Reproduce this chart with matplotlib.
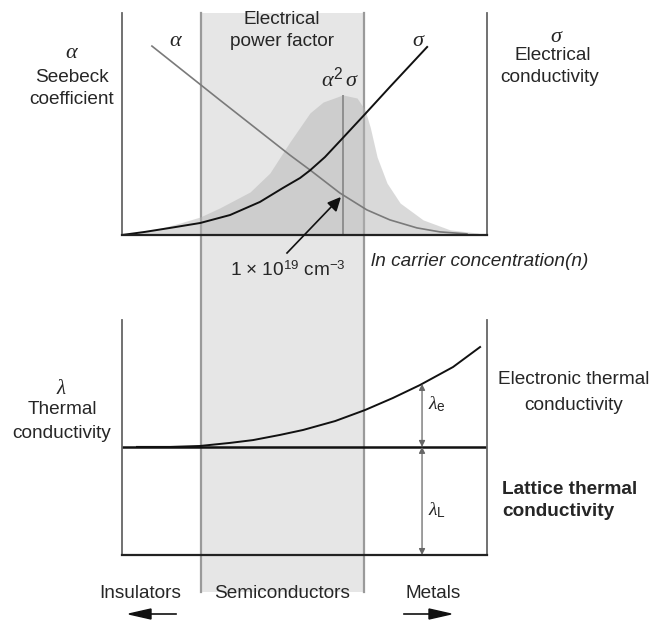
import numpy as np
import matplotlib
matplotlib.use('Agg')
import matplotlib.pyplot as plt

plt.rcParams['font.family'] = ['Liberation Sans', 'DejaVu Sans']
plt.rcParams['mathtext.fontset'] = 'custom'
plt.rcParams['mathtext.rm'] = 'Liberation Sans'
plt.rcParams['mathtext.it'] = 'Liberation Serif:italic'
plt.rcParams['lines.solid_joinstyle'] = 'round'

# %% data (x = ln n, arbitrary 0-100 units; y = arbitrary 0-100 units)

alpha_x = [8.2, 26.8, 46.0, 51.5, 59.7, 67.1, 73.4, 80.8, 87.1, 94.5]
alpha_y = [85.1, 60.8, 36.0, 29.3, 18.9, 11.3, 6.8, 3.2, 1.4, 0.5]

sigma_x = [0, 6.3, 13.2, 21.4, 29.6, 37.8, 44.1, 48.8, 51.5, 55.6, 59.7, 66.6, 73.4, 83.6]
sigma_y = [0, 1.4, 3.2, 5.4, 9.0, 14.9, 21.2, 25.7, 29.1, 35.1, 42.3, 54.5, 66.7, 84.7]

pf_x = [0, 7.7, 15.9, 21.4, 26.8, 35.1, 40.5, 46.0, 51.5, 55.1, 60.5, 64.4, 66.6,
        68.0, 69.9, 72.6, 76.2, 82.5, 89.9, 97.3, 99.5]
pf_y = [0, 1.8, 5.4, 8.1, 12.2, 19.4, 27.9, 41.9, 55.0, 59.9, 63.1, 61.7, 56.3,
        48.6, 35.1, 23.4, 14.4, 6.8, 2.3, 0.9, 0]
peak_x = 60.6
peak_y = 63.1

kappa_x = [4.1, 13.2, 21.4, 29.6, 35.9, 43.3, 49.6, 58.4, 66.6, 74.2, 81.6, 90.7, 98.1]
kappa_y = [46.0, 46.0, 46.4, 47.7, 48.9, 51.1, 53.2, 57.0, 61.7, 66.8, 72.3, 80.0, 88.5]
lattice = 46.0
arrow_x = 82.2
arrow_top = 72.8

band_lo, band_hi = 21.6, 66.3

# %% layout helpers (pixel -> figure fraction)

W, H = 655, 623
def fx(px):
    return px / W
def fy(py):
    return 1 - py / H

fig = plt.figure(figsize=(W / 100, H / 100), dpi=100)

# background axes carrying the semiconductor band
bg = fig.add_axes([0, 0, 1, 1])
bg.set_xlim(-122 / 3.65, (W - 122) / 3.65)
bg.set_ylim(0, 1)
bg.axis('off')
bg.axvspan(band_lo, band_hi, ymin=fy(592), ymax=fy(13), color='#e6e6e6', lw=0)
for xb in (band_lo, band_hi):
    bg.axvline(xb, ymin=fy(592), ymax=fy(13), color='#9a9a9a', lw=1.6)

def frame(ax):
    ax.set_facecolor('none')
    ax.set_xlim(0, 100)
    ax.set_ylim(0, 100)
    ax.set_xticks([])
    ax.set_yticks([])
    ax.spines['top'].set_visible(False)
    for s in ('left', 'right'):
        ax.spines[s].set_color('#666666')
        ax.spines[s].set_linewidth(1.3)
    ax.spines['bottom'].set_color('#222222')
    ax.spines['bottom'].set_linewidth(1.6)

# %% top panel
ax1 = fig.add_axes([fx(122), fy(235), 365 / W, 222 / H])
frame(ax1)
ax1.fill_between(pf_x, pf_y, 0, color='#b5b5b5', alpha=0.5, lw=0)
ax1.vlines(peak_x, 0, peak_y, color='#8a8a8a', lw=1.3)
ax1.plot(alpha_x, alpha_y, color='#7a7a7a', lw=1.2)
ax1.plot(sigma_x, sigma_y, color='#111111', lw=1.4)

# %% bottom panel
ax2 = fig.add_axes([fx(122), fy(555), 365 / W, 235 / H])
frame(ax2)
ax2.axhline(lattice, color='#111111', lw=1.8)
ax2.plot(kappa_x, kappa_y, color='#111111', lw=1.4)
ap = dict(arrowstyle='<|-|>', color='#666666', lw=0.9, shrinkA=0, shrinkB=0,
          mutation_scale=9)
ax2.annotate('', xy=(arrow_x, lattice), xytext=(arrow_x, arrow_top), arrowprops=ap)
ax2.annotate('', xy=(arrow_x, 0), xytext=(arrow_x, lattice), arrowprops=ap)

# %% texts
fs = 13.7
def t(px, py, s, **kw):
    kw.setdefault('fontsize', fs)
    kw.setdefault('ha', 'center')
    kw.setdefault('va', 'center')
    kw.setdefault('color', '#262626')
    fig.text(fx(px), fy(py), s, **kw)

t(72, 53, r'$\alpha$', fontsize=16)
t(72, 77, 'Seebeck')
t(72, 100, 'coefficient')
t(176, 40, r'$\alpha$', fontsize=16)
t(282, 20, 'Electrical')
t(282, 42, 'power factor')
t(340, 79, r'$\alpha^{2}\,\sigma$', fontsize=16)
t(419, 41, r'$\sigma$', fontsize=16)
t(557, 36, r'$\sigma$', fontsize=16)
t(553, 56, 'Electrical')
t(550, 78, 'conductivity')
t(288, 270, r'1$\,\times\,$10$^{19}$ cm$^{-3}$')
t(371, 262, 'ln carrier concentration(n)', ha='left', style='italic')
fig.add_artist(plt.Line2D([fx(287), fx(333)], [fy(253), fy(205)],
                          color='#111111', lw=1.2))
fig.patches.append(plt.Polygon([[fx(340), fy(198)], [fx(328), fy(203)], [fx(336), fy(211)]],
                               closed=True, color='#111111', transform=fig.transFigure))

t(62, 389, r'$\lambda$', fontsize=15)
t(62, 410, 'Thermal')
t(62, 433, 'conductivity')
t(574, 380, 'Electronic thermal')
t(574, 405, 'conductivity')
t(437, 404, r'$\lambda_{\mathrm{e}}$', fontsize=14)
t(437, 510, r'$\lambda_{\mathrm{L}}$', fontsize=14)
t(502, 490, 'Lattice thermal', fontweight='bold', ha='left')
t(502, 512, 'conductivity', fontweight='bold', ha='left')

t(140, 594, 'Insulators')
t(282, 594, 'Semiconductors')
t(433, 594, 'Metals')
fig.add_artist(plt.Line2D([fx(150), fx(176)], [fy(614), fy(614)], color='#111111', lw=1.2))
fig.patches.append(plt.Polygon([[fx(129), fy(614)], [fx(151), fy(609)], [fx(151), fy(619)]],
                               closed=True, color='#111111', transform=fig.transFigure))
fig.add_artist(plt.Line2D([fx(404), fx(430)], [fy(614), fy(614)], color='#111111', lw=1.2))
fig.patches.append(plt.Polygon([[fx(451), fy(614)], [fx(429), fy(609)], [fx(429), fy(619)]],
                               closed=True, color='#111111', transform=fig.transFigure))

fig.savefig('out.png', dpi=100)
